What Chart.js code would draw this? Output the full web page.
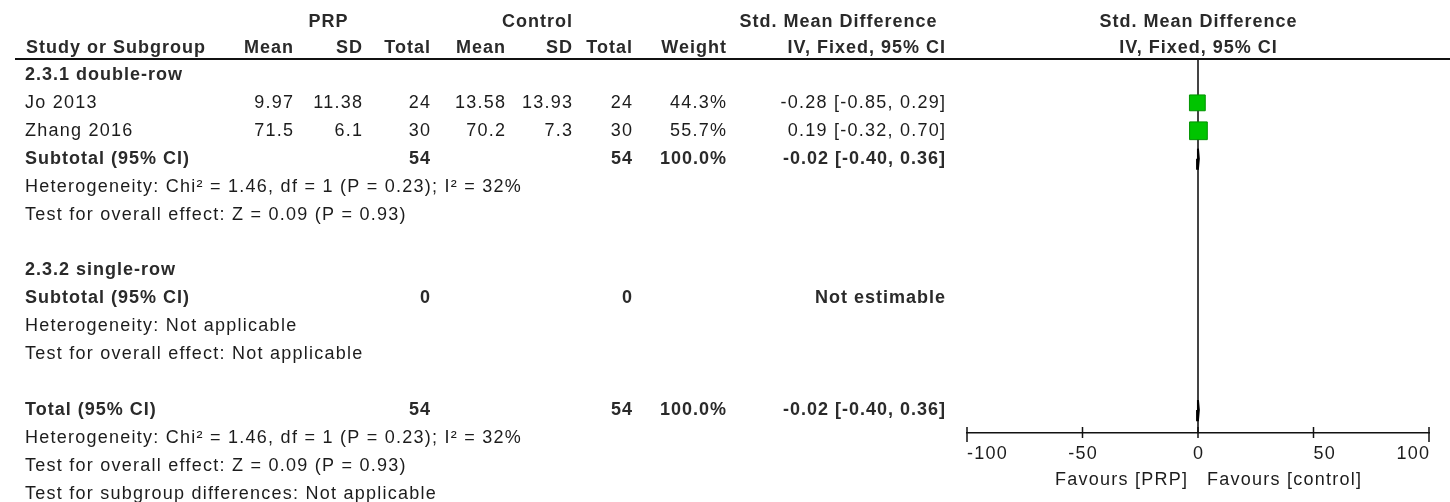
<!DOCTYPE html>
<html>
<head>
<meta charset="utf-8">
<script src="https://cdn.jsdelivr.net/npm/chart.js@4.4.1/dist/chart.umd.min.js"></script>
<style>
  html, body { margin: 0; padding: 0; background: #ffffff; }
  #wrap { position: relative; width: 1450px; height: 502px; }
</style>
</head>
<body>
<div id="wrap"><canvas id="forest"></canvas></div>
<script>
// ---- Study data: PRP vs control ----
const studyNames = ['Jo 2013', 'Zhang 2016'];
const prpMean    = [9.97, 71.5];
const prpSD      = [11.38, 6.1];
const prpTotal   = [24, 30];
const ctrlMean   = [13.58, 70.2];
const ctrlSD     = [13.93, 7.3];
const ctrlTotal  = [24, 30];
const weightPct  = [44.3, 55.7];
const smd        = [-0.28, 0.19];
const ciLow      = [-0.85, -0.32];
const ciHigh     = [0.29, 0.70];

// ---- Pooled estimates (fixed effect) ----
const pooledSmd  = [-0.02];
const pooledLow  = [-0.40];
const pooledHigh = [0.36];
const subtotalPrp  = [54, 0];
const subtotalCtrl = [54, 0];

// ---- Axis ----
const xTicks = [-100, -50, 0, 50, 100];
const xTickLabels = ['-100', '-50', '0', '50', '100'];

// ---- Row layout (row index -> vertical position via the y scale) ----
const ROW = {
  grp1: 0, studies: [1, 2], sub1: 3, het1: 4, test1: 5,
  grp2: 7, sub2: 8, het2: 9, test2: 10,
  total: 12, hetT: 13, testT: 14, testSub: 15
};

const fmt2 = v => v.toFixed(2);
const ciText = (e, l, h) => fmt2(e) + ' [' + fmt2(l) + ', ' + fmt2(h) + ']';

// Square side grows with the square root of the study weight
const squareRadius = weightPct.map(w => 1.68 * Math.sqrt(w));

const datasets = [];
// confidence interval whiskers (drawn underneath the squares)
studyNames.forEach((n, i) => {
  datasets.push({
    type: 'scatter', showLine: true, order: 3,
    data: [{ x: ciLow[i], y: ROW.studies[i] }, { x: ciHigh[i], y: ROW.studies[i] }],
    borderColor: '#000', borderWidth: 1.5, pointRadius: 0
  });
});
// study squares
datasets.push({
  type: 'scatter', order: 1,
  data: studyNames.map((n, i) => ({ x: smd[i], y: ROW.studies[i] })),
  pointStyle: 'rect',
  pointRadius: squareRadius,
  backgroundColor: '#00c400',
  borderColor: '#009400',
  borderWidth: 1
});
// pooled diamonds (subtotal and total)
[ROW.sub1, ROW.total].forEach(r => {
  datasets.push({
    type: 'scatter', showLine: true, fill: 'shape', order: 2,
    data: [
      { x: pooledLow[0], y: r }, { x: pooledSmd[0], y: r - 0.36 },
      { x: pooledHigh[0], y: r }, { x: pooledSmd[0], y: r + 0.36 },
      { x: pooledLow[0], y: r }
    ],
    borderColor: '#000', backgroundColor: '#000', borderWidth: 2, pointRadius: 0, tension: 0
  });
});

const FONT = '"Liberation Sans", Arial, sans-serif';
function drawText(ctx, s, x, y, align, bold) {
  const sp = bold ? 1.0 : 1.25;
  ctx.font = (bold ? 'bold ' : '') + '18px ' + FONT;
  ctx.letterSpacing = sp + 'px';
  ctx.fillStyle = bold ? '#2a2a2a' : '#1c1c1c';
  ctx.textBaseline = 'middle';
  ctx.textAlign = align;
  let xx = x;
  if (align === 'right') xx = x + sp;
  else if (align === 'center') xx = x + sp / 2;
  ctx.fillText(s, xx, y);
}

const tablePlugin = {
  id: 'forestTable',
  afterDraw(chart) {
    const ctx = chart.ctx;
    const ys = chart.scales.y, xs = chart.scales.x;
    const py = r => ys.getPixelForValue(r);
    const area = chart.chartArea;
    ctx.save();

    // header rule
    ctx.strokeStyle = '#111';
    ctx.lineWidth = 2;
    ctx.beginPath();
    ctx.moveTo(15, area.top);
    ctx.lineTo(1450, area.top);
    ctx.stroke();

    // column headers
    const h1 = py(-1.9), h2 = py(-0.96);
    drawText(ctx, 'PRP', 328, h1, 'center', true);
    drawText(ctx, 'Control', 537, h1, 'center', true);
    drawText(ctx, 'Std. Mean Difference', 838, h1, 'center', true);
    drawText(ctx, 'Std. Mean Difference', xs.getPixelForValue(0), h1, 'center', true);
    drawText(ctx, 'Study or Subgroup', 26, h2, 'left', true);
    drawText(ctx, 'Mean', 293, h2, 'right', true);
    drawText(ctx, 'SD', 362, h2, 'right', true);
    drawText(ctx, 'Total', 430, h2, 'right', true);
    drawText(ctx, 'Mean', 505, h2, 'right', true);
    drawText(ctx, 'SD', 572, h2, 'right', true);
    drawText(ctx, 'Total', 632, h2, 'right', true);
    drawText(ctx, 'Weight', 726, h2, 'right', true);
    drawText(ctx, 'IV, Fixed, 95% CI', 945, h2, 'right', true);
    drawText(ctx, 'IV, Fixed, 95% CI', xs.getPixelForValue(0), h2, 'center', true);

    // subgroup 2.3.1
    drawText(ctx, '2.3.1 double-row', 25, py(ROW.grp1), 'left', true);
    studyNames.forEach((n, i) => {
      const y = py(ROW.studies[i]);
      drawText(ctx, n, 25, y, 'left', false);
      drawText(ctx, String(prpMean[i]), 293, y, 'right', false);
      drawText(ctx, String(prpSD[i]), 362, y, 'right', false);
      drawText(ctx, String(prpTotal[i]), 430, y, 'right', false);
      drawText(ctx, String(ctrlMean[i]), 505, y, 'right', false);
      drawText(ctx, String(ctrlSD[i]), 572, y, 'right', false);
      drawText(ctx, String(ctrlTotal[i]), 632, y, 'right', false);
      drawText(ctx, weightPct[i].toFixed(1) + '%', 726, y, 'right', false);
      drawText(ctx, ciText(smd[i], ciLow[i], ciHigh[i]), 945, y, 'right', false);
    });
    const wSum = weightPct.reduce((a, b) => a + b, 0);
    let y = py(ROW.sub1);
    drawText(ctx, 'Subtotal (95% CI)', 25, y, 'left', true);
    drawText(ctx, String(subtotalPrp[0]), 430, y, 'right', true);
    drawText(ctx, String(subtotalCtrl[0]), 632, y, 'right', true);
    drawText(ctx, wSum.toFixed(1) + '%', 726, y, 'right', true);
    drawText(ctx, ciText(pooledSmd[0], pooledLow[0], pooledHigh[0]), 945, y, 'right', true);
    drawText(ctx, 'Heterogeneity: Chi\u00b2 = 1.46, df = 1 (P = 0.23); I\u00b2 = 32%', 25, py(ROW.het1), 'left', false);
    drawText(ctx, 'Test for overall effect: Z = 0.09 (P = 0.93)', 25, py(ROW.test1), 'left', false);

    // subgroup 2.3.2
    drawText(ctx, '2.3.2 single-row', 25, py(ROW.grp2), 'left', true);
    y = py(ROW.sub2);
    drawText(ctx, 'Subtotal (95% CI)', 25, y, 'left', true);
    drawText(ctx, String(subtotalPrp[1]), 430, y, 'right', true);
    drawText(ctx, String(subtotalCtrl[1]), 632, y, 'right', true);
    drawText(ctx, 'Not estimable', 945, y, 'right', true);
    drawText(ctx, 'Heterogeneity: Not applicable', 25, py(ROW.het2), 'left', false);
    drawText(ctx, 'Test for overall effect: Not applicable', 25, py(ROW.test2), 'left', false);

    // overall
    y = py(ROW.total);
    drawText(ctx, 'Total (95% CI)', 25, y, 'left', true);
    drawText(ctx, String(subtotalPrp[0] + subtotalPrp[1]), 430, y, 'right', true);
    drawText(ctx, String(subtotalCtrl[0] + subtotalCtrl[1]), 632, y, 'right', true);
    drawText(ctx, wSum.toFixed(1) + '%', 726, y, 'right', true);
    drawText(ctx, ciText(pooledSmd[0], pooledLow[0], pooledHigh[0]), 945, y, 'right', true);
    drawText(ctx, 'Heterogeneity: Chi\u00b2 = 1.46, df = 1 (P = 0.23); I\u00b2 = 32%', 25, py(ROW.hetT), 'left', false);
    drawText(ctx, 'Test for overall effect: Z = 0.09 (P = 0.93)', 25, py(ROW.testT), 'left', false);
    drawText(ctx, 'Test for subgroup differences: Not applicable', 25, py(ROW.testSub), 'left', false);

    // axis tick marks and labels
    const axisY = area.bottom;
    ctx.strokeStyle = '#111';
    ctx.lineWidth = 1.5;
    const aligns = ['left', 'center', 'center', 'left', 'right'];
    xTicks.forEach((v, i) => {
      const px = xs.getPixelForValue(v);
      const endTick = (i === 0 || i === xTicks.length - 1);
      ctx.beginPath();
      ctx.moveTo(px, axisY - 6);
      ctx.lineTo(px, axisY + (endTick ? 9 : 5));
      ctx.stroke();
      drawText(ctx, xTickLabels[i], px, axisY + 21, aligns[i], false);
    });
    const zx = xs.getPixelForValue(0);
    drawText(ctx, 'Favours [PRP]', zx - 11, axisY + 47, 'right', false);
    drawText(ctx, 'Favours [control]', zx + 9, axisY + 47, 'left', false);

    ctx.restore();
  }
};

new Chart(document.getElementById('forest'), {
  type: 'scatter',
  data: { datasets },
  options: {
    responsive: true,
    maintainAspectRatio: false,
    animation: false,
    events: [],
    layout: { padding: { left: 967, right: 21, top: 59, bottom: 69 } },
    plugins: { legend: { display: false }, tooltip: { enabled: false } },
    scales: {
      x: {
        type: 'linear', min: -100, max: 100,
        afterBuildTicks: s => { s.ticks = xTicks.map(v => ({ value: v })); },
        afterFit: s => { s.height = 0; },
        ticks: { display: false },
        grid: {
          drawTicks: false,
          lineWidth: 2,
          color: c => (c.tick && c.tick.value === 0) ? '#444444' : 'rgba(0,0,0,0)'
        },
        border: { display: true, color: '#111', width: 1.5 }
      },
      y: {
        type: 'linear', reverse: true, min: -0.57, max: 12.82,
        display: false
      }
    }
  },
  plugins: [tablePlugin]
});
</script>
</body>
</html>
